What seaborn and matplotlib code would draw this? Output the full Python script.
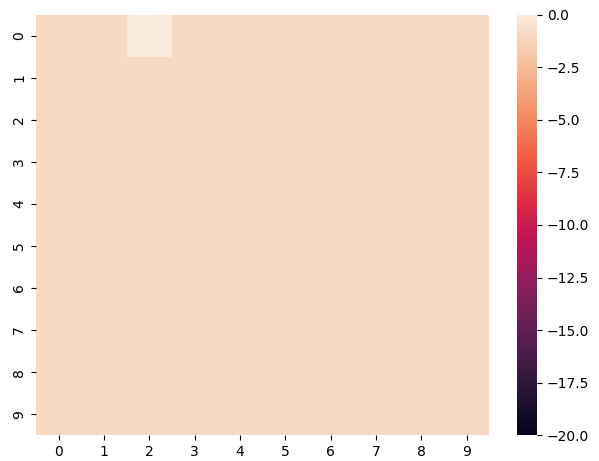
import numpy as np
import matplotlib
matplotlib.use("Agg")
import matplotlib.pyplot as plt
import seaborn as sns

n_rows = 10
n_cols = 10
base_value = -1.0
# cells that differ from the base value: (row, col, value)
special_cells = [(0, 2, 0.0)]

values = np.full((n_rows, n_cols), base_value)
for r, c, v in special_cells:
    values[r, c] = v

fig = plt.figure(figsize=(5.99, 4.61), dpi=100)
ax = fig.add_axes([0.06, 0.056, 0.757, 0.912])
cax = fig.add_axes([0.863, 0.056, 0.034, 0.912])
sns.heatmap(values, vmin=-20, vmax=0, ax=ax, cbar_ax=cax)
fig.savefig("out.png", dpi=100)
